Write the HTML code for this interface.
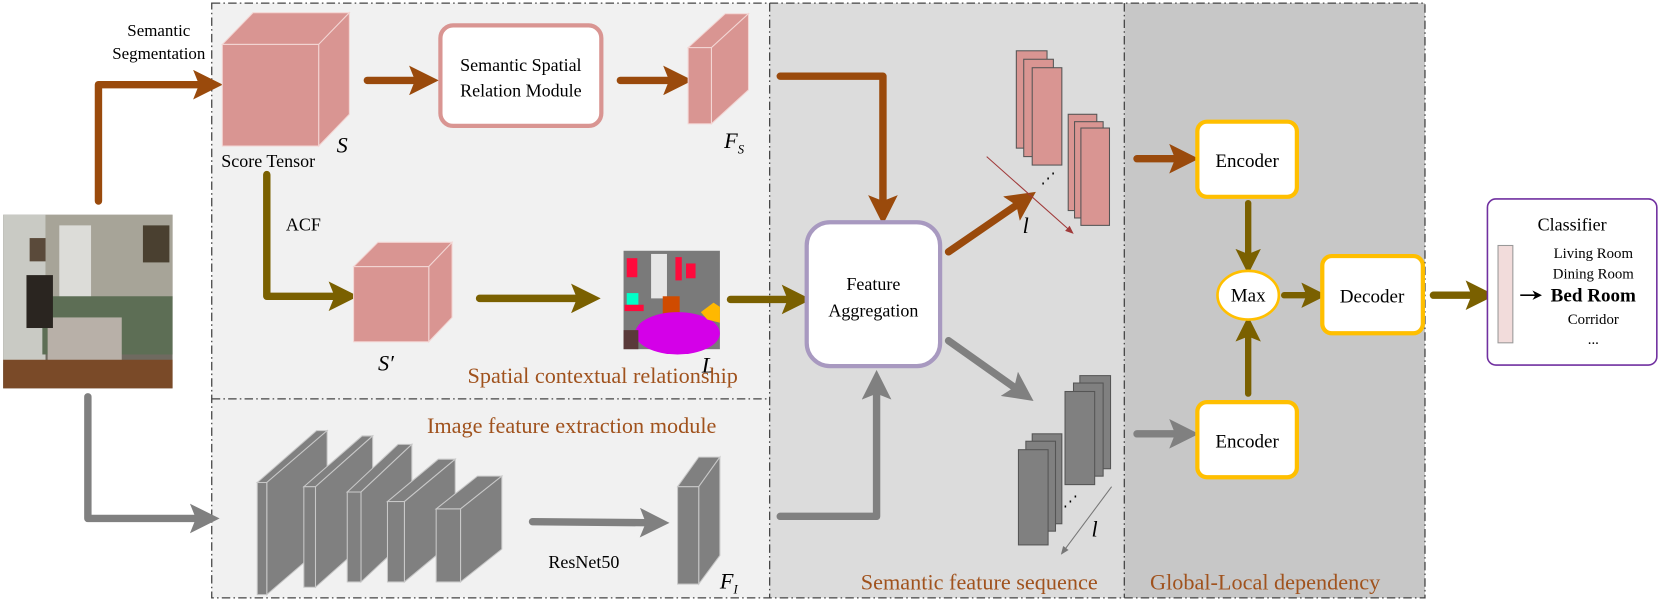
<!DOCTYPE html>
<html><head><meta charset="utf-8"><style>
html,body{margin:0;padding:0;background:#fff;width:1660px;height:601px;overflow:hidden}
svg{display:block}
svg text{font-family:"Liberation Serif","Times New Roman",serif !important}
</style></head><body>
<svg width="1660" height="601" viewBox="0 0 1568 568" preserveAspectRatio="none" xmlns="http://www.w3.org/2000/svg" font-family="Liberation Serif, serif">
<defs>
<marker id="mb" viewBox="0 0 10 10" refX="2" refY="5" markerWidth="4" markerHeight="4" orient="auto"><path d="M0,0L10,5L0,10L2,5Z" fill="#9a4a0c"/></marker>
<marker id="mo" viewBox="0 0 10 10" refX="2" refY="5" markerWidth="4" markerHeight="4" orient="auto"><path d="M0,0L10,5L0,10L2,5Z" fill="#7a6000"/></marker>
<marker id="mg" viewBox="0 0 10 10" refX="2" refY="5" markerWidth="4" markerHeight="4" orient="auto"><path d="M0,0L10,5L0,10L2,5Z" fill="#808080"/></marker>
<marker id="mr" viewBox="0 0 10 10" refX="8" refY="5" markerWidth="8" markerHeight="8" orient="auto"><path d="M0,1L10,5L0,9Z" fill="#a03a3a"/></marker>
<marker id="mt" viewBox="0 0 10 10" refX="8" refY="5" markerWidth="8" markerHeight="8" orient="auto"><path d="M0,1L10,5L0,9Z" fill="#777"/></marker>
<marker id="mk" viewBox="0 0 10 10" refX="5" refY="5" markerWidth="6" markerHeight="6" orient="auto"><path d="M0,0L10,5L0,10L3,5Z" fill="#000"/></marker>
</defs>
<rect x="200" y="3" width="527" height="562" fill="#f1f1f1"/>
<rect x="727" y="3" width="335" height="562" fill="#dcdcdc"/>
<rect x="1062" y="3" width="284" height="562" fill="#c7c7c7"/>
<g fill="none" stroke="#444" stroke-width="1.2" stroke-dasharray="8,3,1.5,3">
<rect x="200" y="3" width="1146" height="562"/>
<line x1="200" y1="377" x2="727" y2="377"/>
<line x1="727" y1="3" x2="727" y2="565"/>
<line x1="1062" y1="3" x2="1062" y2="565"/>
</g>
<rect x="3" y="203" width="160" height="164" fill="#6f6a60"/>
<rect x="3" y="203" width="40" height="140" fill="#c9cac4"/>
<rect x="43" y="203" width="120" height="80" fill="#a7a498"/>
<rect x="56" y="213" width="30" height="70" fill="#dcdcd8"/>
<rect x="28" y="225" width="15" height="22" fill="#5a4a3a"/>
<rect x="135" y="213" width="25" height="35" fill="#4a4030"/>
<rect x="40" y="280" width="123" height="55" fill="#5d6e55"/>
<rect x="45" y="300" width="70" height="45" fill="#b8b0a8"/>
<rect x="3" y="340" width="160" height="27" fill="#7a4a28"/>
<rect x="25" y="260" width="25" height="50" fill="#2a2520"/>
<polyline points="93,190 93,80 188,80" fill="none" stroke="#9a4a0c" stroke-width="7" stroke-linejoin="round" stroke-linecap="round" marker-end="url(#mb)"/>
<text x="150" y="34" font-size="16" text-anchor="middle">Semantic</text>
<text x="150" y="56" font-size="16" text-anchor="middle">Segmentation</text>
<polyline points="83,375 83,490 185,490" fill="none" stroke="#808080" stroke-width="7" stroke-linejoin="round" stroke-linecap="round" marker-end="url(#mg)"/>
<g stroke="#f3d6d4" stroke-width="1">
<polygon points="210,42 239,12 330,12 301,42" fill="#d99592"/>
<polygon points="301,42 330,12 330,108 301,138" fill="#d99592"/>
<rect x="210" y="42" width="91" height="96" fill="#d99592"/>
</g>
<text x="209" y="158" font-size="17">Score Tensor</text>
<text x="318" y="144" font-size="21" font-style="italic">S</text>
<line x1="347" y1="76" x2="392" y2="76" stroke="#9a4a0c" stroke-width="7" stroke-linecap="round" marker-end="url(#mb)"/>
<rect x="416" y="24" width="152" height="95" rx="12" fill="#fff" stroke="#d99592" stroke-width="4"/>
<text x="492" y="67" font-size="17" text-anchor="middle">Semantic Spatial</text>
<text x="492" y="91" font-size="17" text-anchor="middle">Relation Module</text>
<line x1="586" y1="76" x2="632" y2="76" stroke="#9a4a0c" stroke-width="7" stroke-linecap="round" marker-end="url(#mb)"/>
<g stroke="#f3d6d4" stroke-width="1">
<polygon points="650,45 685,13 707,13 672,45" fill="#d99592"/>
<polygon points="672,45 707,13 707,85 672,117" fill="#d99592"/>
<rect x="650" y="45" width="22" height="72" fill="#d99592"/>
</g>
<text x="684" y="140" font-size="21" font-style="italic">F<tspan font-size="12" dy="5">S</tspan></text>
<polyline points="737,72 834,72 834,190" fill="none" stroke="#9a4a0c" stroke-width="7" stroke-linejoin="round" stroke-linecap="round" marker-end="url(#mb)"/>
<polyline points="252,165 252,280 316,280" fill="none" stroke="#7a6000" stroke-width="7" stroke-linejoin="round" stroke-linecap="round" marker-end="url(#mo)"/>
<text x="270" y="218" font-size="17">ACF</text>
<g stroke="#f3d6d4" stroke-width="1">
<polygon points="334,252 357,229 427,229 405,252" fill="#d99592"/>
<polygon points="405,252 427,229 427,300 405,323" fill="#d99592"/>
<rect x="334" y="252" width="71" height="71" fill="#d99592"/>
</g>
<text x="357" y="350" font-size="21" font-style="italic">S′</text>
<line x1="453" y1="282" x2="545" y2="282" stroke="#7a6000" stroke-width="7" stroke-linecap="round" marker-end="url(#mo)"/>
<rect x="589" y="237" width="91" height="93" fill="#7a7a7a"/>
<rect x="592" y="244" width="10" height="18" fill="#ff0a3c"/>
<rect x="615" y="240" width="15" height="42" fill="#e6e6e6"/>
<rect x="638" y="243" width="6" height="22" fill="#ff0a3c"/>
<rect x="648" y="249" width="9" height="14" fill="#ff0a3c"/>
<rect x="592" y="277" width="11" height="13" fill="#00ffc8"/>
<rect x="590" y="288" width="18" height="6" fill="#ff0a3c"/>
<rect x="626" y="280" width="16" height="20" fill="#d04b00"/>
<ellipse cx="640" cy="315" rx="40" ry="20" fill="#d400e8"/>
<polygon points="662,295 674,286 680,290 680,305 668,302" fill="#ffb800"/>
<rect x="589" y="312" width="14" height="18" fill="#5a3a3a"/>
<text x="663" y="352" font-size="21" font-style="italic">L</text>
<text x="697" y="362" font-size="21" fill="#a0521d" text-anchor="end">Spatial contextual relationship</text>
<line x1="690" y1="283" x2="744" y2="283" stroke="#7a6000" stroke-width="7" stroke-linecap="round" marker-end="url(#mo)"/>
<text x="540" y="409" font-size="21" fill="#a0521d" text-anchor="middle">Image feature extraction module</text>
<g fill="#808080" stroke="#c8c8c8" stroke-width="1">
<polygon points="243,456 299,407 309,407 252,456"/><polygon points="252,456 309,407 309,513 252,562"/><rect x="243" y="456" width="9" height="106"/>
<polygon points="287,460 342,412 352,412 298,460"/><polygon points="298,460 352,412 352,507 298,555"/><rect x="287" y="460" width="11" height="95"/>
<polygon points="328,465 376,420 389,420 341,465"/><polygon points="341,465 389,420 389,505 341,550"/><rect x="328" y="465" width="13" height="85"/>
<polygon points="366,474 414,434 430,434 382,474"/><polygon points="382,474 430,434 430,510 382,550"/><rect x="366" y="474" width="16" height="76"/>
<polygon points="412,481 451,450 474,450 435,481"/><polygon points="435,481 474,450 474,519 435,550"/><rect x="412" y="481" width="23" height="69"/>
<polygon points="640,460 660,432 680,432 660,460"/><polygon points="660,460 680,432 680,525 660,552"/><rect x="640" y="460" width="20" height="92"/>
</g>
<line x1="503" y1="493" x2="610" y2="494" stroke="#808080" stroke-width="7" stroke-linecap="round" marker-end="url(#mg)"/>
<text x="518" y="537" font-size="17">ResNet50</text>
<text x="680" y="556" font-size="21" font-style="italic">F<tspan font-size="12" dy="5">I</tspan></text>
<polyline points="737,488 828,488 828,372" fill="none" stroke="#808080" stroke-width="7" stroke-linejoin="round" stroke-linecap="round" marker-end="url(#mg)"/>
<rect x="762" y="210" width="126" height="136" rx="22" fill="#fff" stroke="#a899c0" stroke-width="4"/>
<text x="825" y="274" font-size="17" text-anchor="middle">Feature</text>
<text x="825" y="299" font-size="17" text-anchor="middle">Aggregation</text>
<line x1="896" y1="238" x2="960" y2="194" stroke="#9a4a0c" stroke-width="7" stroke-linecap="round" marker-end="url(#mb)"/>
<line x1="896" y1="322" x2="958" y2="366" stroke="#808080" stroke-width="7" stroke-linecap="round" marker-end="url(#mg)"/>
<g fill="#d99592" stroke="#555" stroke-width="1">
<rect x="960" y="48" width="29" height="92"/><rect x="967" y="56" width="28" height="92"/><rect x="975" y="64" width="28" height="92"/>
<rect x="1009" y="108" width="27" height="91"/><rect x="1015" y="115" width="27" height="91"/><rect x="1021" y="121" width="27" height="92"/>
</g>
<text x="990" y="173" font-size="14" text-anchor="middle">⋰</text>
<line x1="932" y1="148" x2="1013" y2="220" stroke="#a03a3a" stroke-width="1" marker-end="url(#mr)"/>
<text x="966" y="220" font-size="21" font-style="italic">l</text>
<g fill="#808080" stroke="#555" stroke-width="1">
<rect x="1020" y="355" width="29" height="88"/><rect x="1014" y="362" width="28" height="88"/><rect x="1006" y="370" width="28" height="88"/>
<rect x="975" y="410" width="28" height="85"/><rect x="969" y="417" width="28" height="85"/><rect x="962" y="425" width="28" height="90"/>
</g>
<text x="1011" y="478" font-size="14" text-anchor="middle">⋰</text>
<line x1="1050" y1="460" x2="1003" y2="523" stroke="#777" stroke-width="1" marker-end="url(#mt)"/>
<text x="1031" y="507" font-size="21" font-style="italic">l</text>
<text x="925" y="557" font-size="21" fill="#a0521d" text-anchor="middle">Semantic feature sequence</text>
<line x1="1074" y1="150" x2="1110" y2="150" stroke="#9a4a0c" stroke-width="7" stroke-linecap="round" marker-end="url(#mb)"/>
<line x1="1074" y1="410" x2="1110" y2="410" stroke="#808080" stroke-width="7" stroke-linecap="round" marker-end="url(#mg)"/>
<rect x="1131" y="115" width="94" height="71" rx="9" fill="#fff" stroke="#ffbf00" stroke-width="4"/>
<text x="1178" y="158" font-size="18" text-anchor="middle">Encoder</text>
<rect x="1131" y="380" width="94" height="71" rx="9" fill="#fff" stroke="#ffbf00" stroke-width="4"/>
<text x="1178" y="423" font-size="18" text-anchor="middle">Encoder</text>
<line x1="1179" y1="192" x2="1179" y2="240" stroke="#7a6000" stroke-width="6" stroke-linecap="round" marker-end="url(#mo)"/>
<line x1="1179" y1="372" x2="1179" y2="318" stroke="#7a6000" stroke-width="6" stroke-linecap="round" marker-end="url(#mo)"/>
<ellipse cx="1179" cy="279" rx="29" ry="23" fill="#fff" stroke="#ffbf00" stroke-width="2.5"/>
<text x="1179" y="285" font-size="18" text-anchor="middle">Max</text>
<line x1="1213" y1="279" x2="1234" y2="279" stroke="#7a6000" stroke-width="6" stroke-linecap="round" marker-end="url(#mo)"/>
<rect x="1249" y="242" width="95" height="73" rx="9" fill="#fff" stroke="#ffbf00" stroke-width="4"/>
<text x="1296" y="286" font-size="18" text-anchor="middle">Decoder</text>
<line x1="1354" y1="279" x2="1390" y2="279" stroke="#7a6000" stroke-width="7" stroke-linecap="round" marker-end="url(#mo)"/>
<text x="1195" y="557" font-size="21" fill="#a0521d" text-anchor="middle">Global-Local dependency</text>
<rect x="1405" y="188" width="160" height="157" rx="8" fill="#fff" stroke="#7030a0" stroke-width="1.5"/>
<text x="1485" y="218" font-size="17" text-anchor="middle">Classifier</text>
<rect x="1415" y="232" width="14" height="92" fill="#f2dcdb" stroke="#999" stroke-width="1"/>
<text x="1505" y="244" font-size="14" text-anchor="middle">Living Room</text>
<text x="1505" y="263" font-size="14" text-anchor="middle">Dining Room</text>
<text x="1505" y="285" font-size="18" font-weight="bold" text-anchor="middle">Bed Room</text>
<text x="1505" y="306" font-size="14" text-anchor="middle">Corridor</text>
<text x="1505" y="325" font-size="14" text-anchor="middle">...</text>
<line x1="1436" y1="279" x2="1452" y2="279" stroke="#000" stroke-width="1.5" marker-end="url(#mk)"/>
</svg>
</body></html>
